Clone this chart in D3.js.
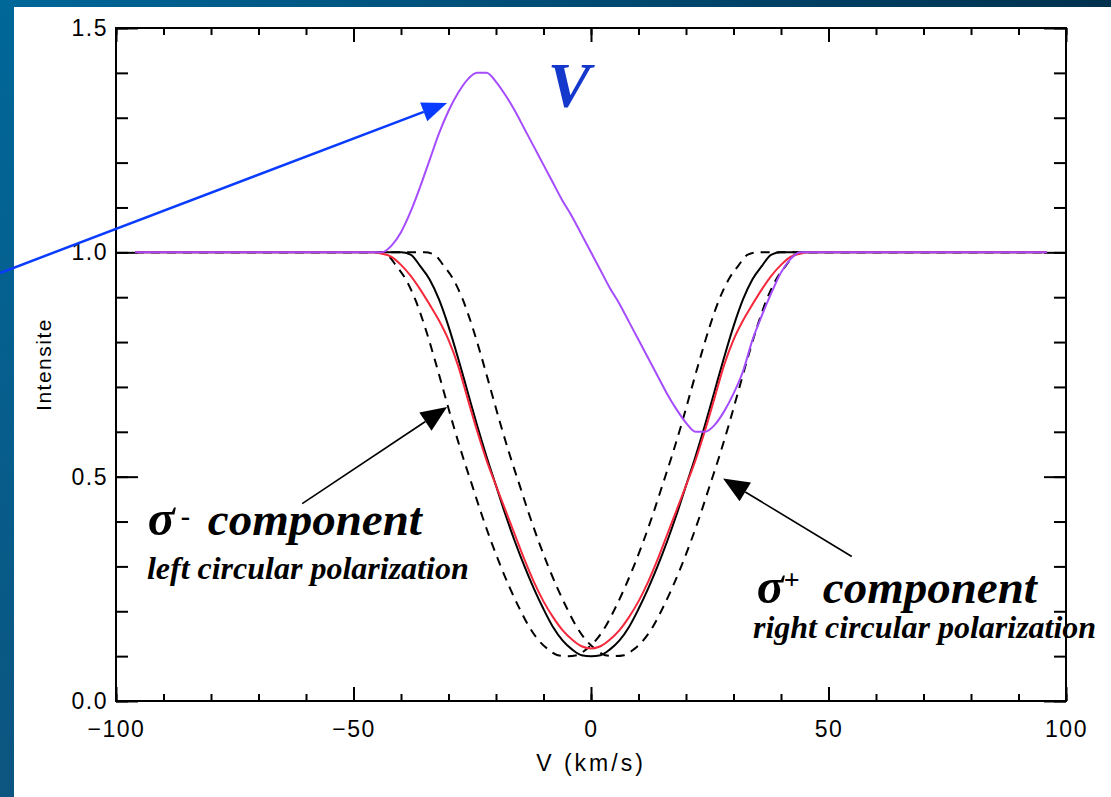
<!DOCTYPE html>
<html>
<head>
<meta charset="utf-8">
<script src="https://cdn.jsdelivr.net/npm/d3@7/dist/d3.min.js"></script>
<style>
  html, body { margin: 0; padding: 0; background: #fff; }
  svg { display: block; }
  .tick text { font-family: 'Liberation Sans', Arial, sans-serif; }
</style>
</head>
<body>
<svg id="chart" width="1111" height="797"></svg>
<script>
'use strict';

// velocity axis (km/s) and intensity axis
var xTickValues = [-100, -50, 0, 50, 100],
    xTickLabels = ['\u2212100', '\u221250', '0', '50', '100'],
    yTickValues = [0, 0.5, 1, 1.5],
    yTickLabels = ['0.0', '0.5', '1.0', '1.5'];

// unsplit line profile (black solid)
var profileVelocity = [-96, -40, -38, -36, -34, -32, -30, -28, -26, -24, -22,
    -20, -18, -16, -14, -12, -10, -8, -6, -4, -2, 0, 2, 4, 6, 8, 10, 12, 14,
    16, 18, 20, 22, 24, 26, 28, 30, 32, 34, 36, 38, 40, 96];
var profileIntensity = [1.0, 1.0, 0.995, 0.97, 0.94, 0.895, 0.835, 0.765,
    0.69, 0.615, 0.545, 0.48, 0.415, 0.355, 0.3, 0.25, 0.205, 0.165, 0.135,
    0.115, 0.102, 0.1, 0.102, 0.115, 0.135, 0.165, 0.205, 0.25, 0.3, 0.355,
    0.415, 0.48, 0.545, 0.615, 0.69, 0.765, 0.835, 0.895, 0.94, 0.97, 0.995,
    1.0, 1.0];

// sigma- component, shifted to the blue (black dashed)
var sigmaMinusVelocity = [-96, -45, -43, -41, -39, -37, -35, -33, -31, -29,
    -27, -25, -23, -21, -19, -17, -15, -13, -11, -9, -7, -5, -3, -1, 1, 3, 5,
    7, 9, 11, 13, 15, 17, 19, 21, 23, 25, 27, 29, 31, 33, 35, 96];
var sigmaMinusIntensity = [1.0, 1.0, 0.995, 0.97, 0.94, 0.895, 0.835, 0.765,
    0.69, 0.615, 0.545, 0.48, 0.415, 0.355, 0.3, 0.25, 0.205, 0.165, 0.135,
    0.115, 0.102, 0.1, 0.102, 0.115, 0.135, 0.165, 0.205, 0.25, 0.3, 0.355,
    0.415, 0.48, 0.545, 0.615, 0.69, 0.765, 0.835, 0.895, 0.94, 0.97, 0.995,
    1.0, 1.0];

// sigma+ component, shifted to the red (black dashed)
var sigmaPlusVelocity = [-96, -35, -33, -31, -29, -27, -25, -23, -21, -19,
    -17, -15, -13, -11, -9, -7, -5, -3, -1, 1, 3, 5, 7, 9, 11, 13, 15, 17, 19,
    21, 23, 25, 27, 29, 31, 33, 35, 37, 39, 41, 43, 45, 96];
var sigmaPlusIntensity = [1.0, 1.0, 0.995, 0.97, 0.94, 0.895, 0.835, 0.765,
    0.69, 0.615, 0.545, 0.48, 0.415, 0.355, 0.3, 0.25, 0.205, 0.165, 0.135,
    0.115, 0.102, 0.1, 0.102, 0.115, 0.135, 0.165, 0.205, 0.25, 0.3, 0.355,
    0.415, 0.48, 0.545, 0.615, 0.69, 0.765, 0.835, 0.895, 0.94, 0.97, 0.995,
    1.0, 1.0];

// Stokes I (red)
var stokesIVelocity = [-96, -46, -44, -42, -40, -38, -36, -34, -32, -30, -28,
    -26, -24, -22, -20, -18, -16, -14, -12, -10, -8, -6, -4, -2, 0, 2, 4, 6,
    8, 10, 12, 14, 16, 18, 20, 22, 24, 26, 28, 30, 32, 34, 36, 38, 40, 42, 44,
    46, 96];
var stokesIIntensity = [1.0, 1.0, 0.997, 0.99, 0.972, 0.948, 0.918, 0.884,
    0.848, 0.805, 0.748, 0.675, 0.603, 0.537, 0.48, 0.425, 0.37, 0.315, 0.265,
    0.222, 0.187, 0.158, 0.137, 0.122, 0.117, 0.122, 0.137, 0.158, 0.187,
    0.222, 0.265, 0.315, 0.37, 0.425, 0.48, 0.537, 0.603, 0.675, 0.748, 0.805,
    0.848, 0.884, 0.918, 0.948, 0.972, 0.99, 0.997, 1.0, 1.0];

// Stokes V (purple), offset to the continuum
var stokesVVelocity = [-96, -44, -42, -40, -38, -36, -34, -32, -30, -28, -26,
    -24, -22, -20, -18, -16, -14, -12, -10, -8, -6, -4, -2, 0, 2, 4, 6, 8, 10,
    12, 14, 16, 18, 20, 22, 24, 26, 28, 30, 32, 34, 36, 38, 40, 42, 44, 96];
var stokesVIntensity = [1.0, 1.0, 1.015, 1.045, 1.09, 1.145, 1.205, 1.265,
    1.315, 1.355, 1.385, 1.4, 1.4, 1.38, 1.35, 1.315, 1.275, 1.235, 1.195,
    1.155, 1.115, 1.08, 1.04, 1.0, 0.96, 0.92, 0.885, 0.845, 0.805, 0.765,
    0.725, 0.685, 0.65, 0.62, 0.6, 0.6, 0.615, 0.645, 0.685, 0.735, 0.805,
    0.86, 0.91, 0.955, 0.985, 1.0, 1.0];

// annotation anchors in data units [velocity, intensity]
var arrowV = [[-124.4, 0.954], [-30.3, 1.333]],
    arrowSigmaMinus = [[-60.8, 0.44], [-30.3, 0.655]],
    arrowSigmaPlus = [[54.9, 0.322], [27.8, 0.496]];
var labelV = [-9.1, 1.324],
    labelSigmaMinus = [-93.3, 0.369],
    labelLeftPol = [-93.5, 0.273],
    labelSigmaPlus = [34.9, 0.219],
    labelRightPol = [34.1, 0.141];

var svg = d3.select('#chart'),
    defs = svg.append('defs'),
    width = 1111,
    height = 797,
    margin = {left: 116, right: 45, top: 28, bottom: 96},
    sans = 'Liberation Sans, Arial, sans-serif',
    serif = 'Liberation Serif, Times New Roman, serif',
    x,
    y,
    line;

x = d3.scaleLinear().domain([-100, 100])
    .range([margin.left, width - margin.right]);
y = d3.scaleLinear().domain([0, 1.5])
    .range([height - margin.bottom, margin.top]);

/**
 * Slide background: white page with a blue bar on top and on the left.
 */
var topGrad = defs.append('linearGradient').attr('id', 'topGrad')
    .attr('x1', 0).attr('x2', 1).attr('y1', 0).attr('y2', 0);
topGrad.append('stop').attr('offset', 0).attr('stop-color', '#006799');
topGrad.append('stop').attr('offset', 1).attr('stop-color', '#00314f');

var leftGrad = defs.append('linearGradient').attr('id', 'leftGrad')
    .attr('x1', 0).attr('x2', 0).attr('y1', 0).attr('y2', 1);
leftGrad.append('stop').attr('offset', 0).attr('stop-color', '#006799');
leftGrad.append('stop').attr('offset', 1).attr('stop-color', '#0c5580');

svg.append('rect').attr('width', width).attr('height', height)
    .attr('fill', '#fff');
svg.append('rect').attr('width', width).attr('height', 7)
    .attr('fill', 'url(#topGrad)');
svg.append('rect').attr('width', 14).attr('height', height)
    .attr('fill', 'url(#leftGrad)');

/**
 * Axes: IDL style box, ticks pointing inward, minor ticks every tenth.
 */
var minorX = d3.range(-100, 101, 10),
    minorY = d3.range(0, 1.51, 0.1);

function styleAxis (g) {
  g.select('.domain').remove();
  g.selectAll('.tick line').attr('stroke', '#000').attr('stroke-width', 2);
  g.selectAll('.tick text').attr('fill', '#000')
      .attr('font-size', 23).attr('letter-spacing', 1.5);
}

svg.append('g').attr('transform', 'translate(0,' + y(0) + ')')
    .call(d3.axisBottom(x).tickValues(minorX).tickSize(-7).tickFormat(''))
    .call(styleAxis);
svg.append('g').attr('transform', 'translate(0,' + y(0) + ')')
    .call(d3.axisBottom(x).tickValues(xTickValues).tickSize(-14)
        .tickPadding(20)
        .tickFormat(function (d, i) { return xTickLabels[i]; }))
    .call(styleAxis);
svg.append('g').attr('transform', 'translate(0,' + y(1.5) + ')')
    .call(d3.axisTop(x).tickValues(minorX).tickSize(-7).tickFormat(''))
    .call(styleAxis);
svg.append('g').attr('transform', 'translate(0,' + y(1.5) + ')')
    .call(d3.axisTop(x).tickValues(xTickValues).tickSize(-14).tickFormat(''))
    .call(styleAxis);

svg.append('g').attr('transform', 'translate(' + x(-100) + ',0)')
    .call(d3.axisLeft(y).tickValues(minorY).tickSize(-12).tickFormat(''))
    .call(styleAxis);
svg.append('g').attr('transform', 'translate(' + x(-100) + ',0)')
    .call(d3.axisLeft(y).tickValues(yTickValues).tickSize(-22).tickPadding(8)
        .tickFormat(function (d, i) { return yTickLabels[i]; }))
    .call(styleAxis);
svg.append('g').attr('transform', 'translate(' + x(100) + ',0)')
    .call(d3.axisRight(y).tickValues(minorY).tickSize(-12).tickFormat(''))
    .call(styleAxis);
svg.append('g').attr('transform', 'translate(' + x(100) + ',0)')
    .call(d3.axisRight(y).tickValues(yTickValues).tickSize(-22).tickFormat(''))
    .call(styleAxis);

svg.append('rect')
    .attr('x', x(-100)).attr('y', y(1.5))
    .attr('width', x(100) - x(-100)).attr('height', y(0) - y(1.5))
    .attr('fill', 'none').attr('stroke', '#000').attr('stroke-width', 2);

svg.append('text')
    .attr('x', x(0)).attr('y', 771)
    .attr('text-anchor', 'middle')
    .attr('font-family', sans)
    .attr('font-size', 23).attr('letter-spacing', 3)
    .text('V (km/s)');

svg.append('text')
    .attr('transform', 'translate(51,' + y(0.75) + ') rotate(-90)')
    .attr('text-anchor', 'middle')
    .attr('font-family', sans)
    .attr('font-size', 21).attr('letter-spacing', 1.5)
    .text('Intensite');

/**
 * Profiles.
 */
line = d3.line()
    .curve(d3.curveMonotoneX)
    .x(function (d) { return x(d[0]); })
    .y(function (d) { return y(d[1]); });

function pairs (vs, is) {
  return vs.map(function (v, i) { return [v, is[i]]; });
}

function drawProfile (vs, is, color, dash) {
  svg.append('path')
      .datum(pairs(vs, is))
      .attr('d', line)
      .attr('fill', 'none')
      .attr('stroke', color)
      .attr('stroke-width', 2)
      .attr('stroke-dasharray', dash || null)
      .attr('stroke-linejoin', 'round');
}

drawProfile(sigmaMinusVelocity, sigmaMinusIntensity, '#000', '9,7');
drawProfile(sigmaPlusVelocity, sigmaPlusIntensity, '#000', '9,7');
drawProfile(profileVelocity, profileIntensity, '#000');
drawProfile(stokesIVelocity, stokesIIntensity, '#f5283c');
drawProfile(stokesVVelocity, stokesVIntensity, '#a64cff');

/**
 * Annotations: arrows with filled heads and labels.
 */
function drawArrow (ends, color, lineWidth, headLength, headHalf) {
  var x0 = x(ends[0][0]),
      y0 = y(ends[0][1]),
      x1 = x(ends[1][0]),
      y1 = y(ends[1][1]),
      len = Math.sqrt((x1 - x0) * (x1 - x0) + (y1 - y0) * (y1 - y0)),
      ux = (x1 - x0) / len,
      uy = (y1 - y0) / len,
      bx = x1 - ux * headLength,
      by = y1 - uy * headLength;

  svg.append('path')
      .attr('d', 'M ' + x0 + ' ' + y0 + ' L ' + bx + ' ' + by)
      .attr('stroke', color)
      .attr('stroke-width', lineWidth)
      .attr('fill', 'none');
  svg.append('path')
      .attr('d',
          'M ' + x1 + ' ' + y1 +
          'L ' + (bx - uy * headHalf) + ' ' + (by + ux * headHalf) +
          'L ' + (bx + uy * headHalf) + ' ' + (by - ux * headHalf) + 'Z')
      .attr('fill', color);
}

drawArrow(arrowV, '#0a3cff', 2.5, 25, 10);
drawArrow(arrowSigmaMinus, '#000', 1.6, 26, 11);
drawArrow(arrowSigmaPlus, '#000', 1.6, 26, 11);

svg.append('text')
    .attr('x', x(labelV[0])).attr('y', y(labelV[1]))
    .attr('font-family', serif).attr('font-weight', 'bold')
    .attr('font-style', 'italic').attr('font-size', 64)
    .attr('fill', '#1538cc')
    .text('V');

function drawSigmaLabel (anchor, sign, supDx, supDy, wordDx) {
  var t = svg.append('text')
      .attr('x', x(anchor[0])).attr('y', y(anchor[1]))
      .attr('font-family', serif).attr('font-weight', 'bold')
      .attr('font-style', 'italic').attr('fill', '#000');
  t.append('tspan').attr('font-size', 50).text('\u03c3');
  t.append('tspan')
      .attr('x', x(anchor[0]) + supDx).attr('y', y(anchor[1]) + supDy)
      .attr('font-size', 28).attr('font-style', 'normal')
      .text(sign);
  t.append('tspan')
      .attr('x', x(anchor[0]) + wordDx).attr('y', y(anchor[1]))
      .attr('font-size', 47)
      .text('component');
}

drawSigmaLabel(labelSigmaMinus, '-', 33, -10, 60);
drawSigmaLabel(labelSigmaPlus, '+', 27, -14, 66);

svg.append('text')
    .attr('x', x(labelLeftPol[0])).attr('y', y(labelLeftPol[1]))
    .attr('font-family', serif).attr('font-weight', 'bold')
    .attr('font-style', 'italic').attr('font-size', 32)
    .text('left circular polarization');
svg.append('text')
    .attr('x', x(labelRightPol[0])).attr('y', y(labelRightPol[1]))
    .attr('font-family', serif).attr('font-weight', 'bold')
    .attr('font-style', 'italic').attr('font-size', 32)
    .text('right circular polarization');
</script>
</body>
</html>
